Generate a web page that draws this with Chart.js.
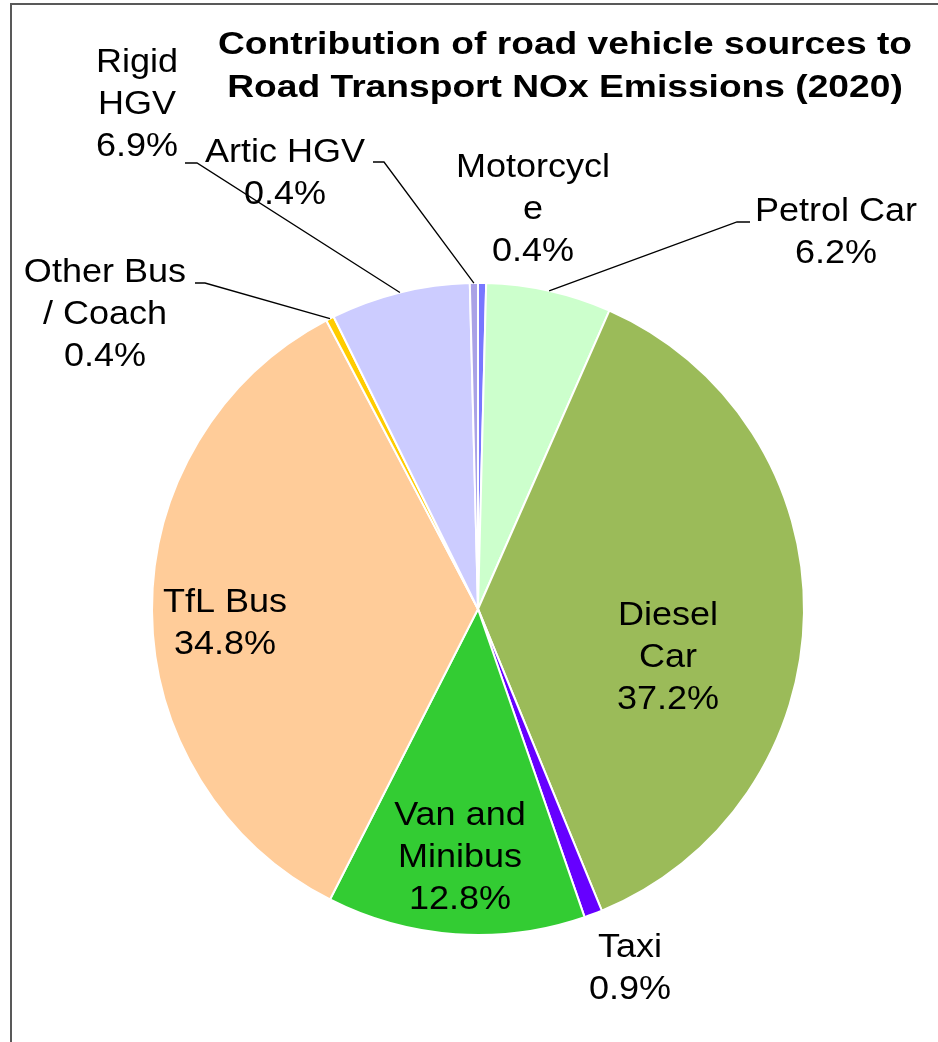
<!DOCTYPE html>
<html>
<head>
<meta charset="utf-8">
<script src="https://cdn.jsdelivr.net/npm/chart.js@4.4.1/dist/chart.umd.min.js"></script>
<style>
  html, body { margin: 0; padding: 0; background: #ffffff; }
  #wrap { width: 938px; height: 1042px; position: relative; }
</style>
</head>
<body>
<div id="wrap"><canvas id="c" width="938" height="1042"></canvas></div>
<script>
// ---- data ----
const categories = ["Motorcycle", "Petrol Car", "Diesel Car", "Taxi", "Van and Minibus", "TfL Bus", "Other Bus / Coach", "Rigid HGV", "Artic HGV"];
const values = [0.4, 6.2, 37.2, 0.9, 12.8, 34.8, 0.4, 6.9, 0.4];
const labelLines = [["Motorcycl", "e"], ["Petrol Car"], ["Diesel", "Car"], ["Taxi"], ["Van and", "Minibus"], ["TfL Bus"], ["Other Bus", "/ Coach"], ["Rigid", "HGV"], ["Artic HGV"]];
const titleLines = ["Contribution of road vehicle sources to", "Road Transport NOx Emissions (2020)"];

// ---- styles / layout ----
const colors = ["#7878ff", "#ccffcc", "#9bbb59", "#6600ff", "#33cc33", "#ffcc99", "#ffcc00", "#ccccff", "#aaa2e6"];
// label anchor: centre x, first baseline y; leader: [x of text end, x of elbow, y]
const labelLayout = [
  { x: 533, y: 177 },
  { x: 836, y: 221, leader: [750, 737, 222] },
  { x: 668, y: 625 },
  { x: 630, y: 957 },
  { x: 460, y: 825 },
  { x: 225, y: 612 },
  { x: 105, y: 282, leader: [195, 205, 283] },
  { x: 137, y: 72, leader: [185, 197, 163] },
  { x: 285, y: 162, leader: [373, 384, 162] }
];
const LINE_H = 42;
const LABEL_FONT = '34px "Liberation Sans", Arial, sans-serif';
const LABEL_SX = 1.06;
const TITLE_FONT = 'bold 31px "Liberation Sans", Arial, sans-serif';

function drawText(ctx, text, cx, y, font, sx) {
  ctx.save();
  ctx.font = font;
  ctx.translate(cx, y);
  ctx.scale(sx, 1);
  ctx.textAlign = 'center';
  ctx.textBaseline = 'alphabetic';
  ctx.fillStyle = '#000000';
  ctx.fillText(text, 0, 0);
  ctx.restore();
}

const annotate = {
  id: 'annotate',
  afterDraw(chart) {
    const ctx = chart.ctx;
    // frame
    ctx.save();
    ctx.strokeStyle = '#595959';
    ctx.lineWidth = 2;
    ctx.strokeRect(11, 4, 1000, 1100);
    ctx.restore();

    // title
    ctx.save();
    ctx.font = TITLE_FONT;
    const w1 = ctx.measureText(titleLines[0]).width;
    ctx.restore();
    const tsx = 694 / w1;
    drawText(ctx, titleLines[0], 565, 54, TITLE_FONT, tsx);
    drawText(ctx, titleLines[1], 565, 97, TITLE_FONT, tsx);

    const meta = chart.getDatasetMeta(0);
    meta.data.forEach((arc, i) => {
      const L = labelLayout[i];
      const lines = labelLines[i].concat([values[i].toFixed(1) + '%']);
      lines.forEach((t, k) => drawText(ctx, t, L.x, L.y + k * LINE_H, LABEL_FONT, LABEL_SX));
      if (L.leader) {
        const p = arc.getProps(['x', 'y', 'startAngle', 'endAngle', 'outerRadius'], true);
        const mid = (p.startAngle + p.endAngle) / 2;
        const ex = p.x + Math.cos(mid) * p.outerRadius;
        const ey = p.y + Math.sin(mid) * p.outerRadius;
        ctx.save();
        ctx.strokeStyle = '#000000';
        ctx.lineWidth = 1.3;
        ctx.beginPath();
        ctx.moveTo(L.leader[0], L.leader[2]);
        ctx.lineTo(L.leader[1], L.leader[2]);
        ctx.lineTo(ex, ey);
        ctx.stroke();
        ctx.restore();
      }
    });
  }
};

new Chart(document.getElementById('c'), {
  type: 'pie',
  data: {
    labels: categories,
    datasets: [{
      data: values,
      backgroundColor: colors,
      borderColor: '#ffffff',
      borderWidth: 2
    }]
  },
  options: {
    responsive: false,
    animation: false,
    devicePixelRatio: 1,
    layout: { padding: { top: 282, left: 151, right: 133, bottom: 106 } },
    plugins: {
      legend: { display: false },
      title: { display: false },
      tooltip: { enabled: false }
    }
  },
  plugins: [annotate]
});
</script>
</body>
</html>
